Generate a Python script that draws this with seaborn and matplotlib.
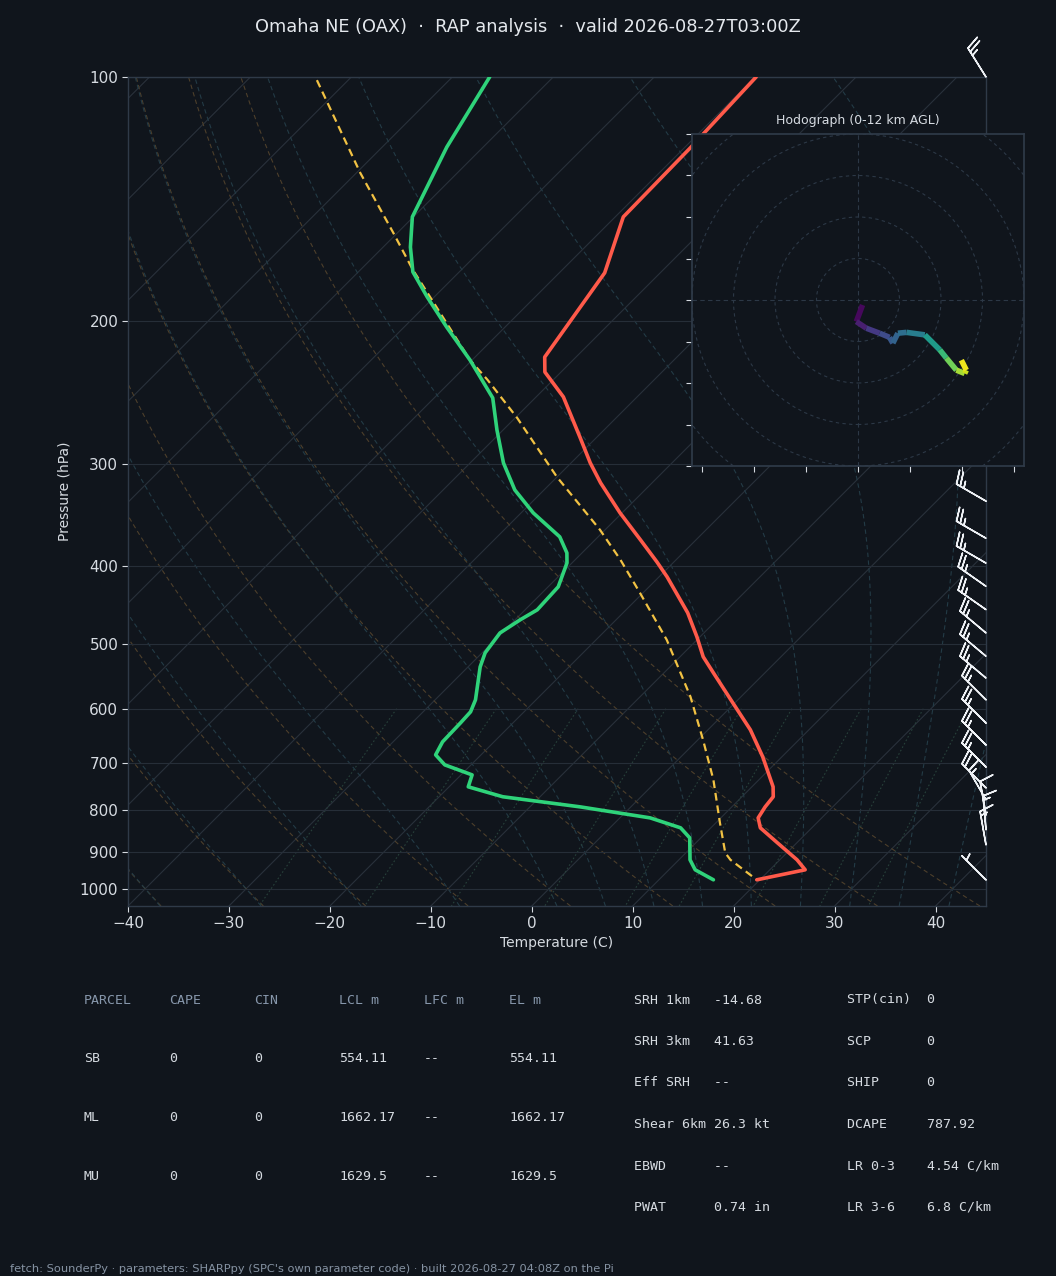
import numpy as np
import matplotlib
matplotlib.use("Agg")
import matplotlib.pyplot as plt
import seaborn as sns
from matplotlib.collections import LineCollection
from matplotlib.patches import Circle
from matplotlib.ticker import FixedLocator, FixedFormatter, NullLocator

# --- sounding values ---
temp_pres = [100, 122.3, 148.7, 174.3, 221.3, 230.9, 247.8, 277.6, 298.8, 316.2,
             344.3, 371.7, 395.6, 412.8, 457.1, 489.4, 517.9, 542.0, 590.2, 637.0,
             687.7, 748.8, 770.2, 792.7, 817.8, 841.2, 878.0, 921.0, 947.5, 974.8]
temp_c = [-59.9, -59.4, -59.2, -55.5, -53.1, -51.6, -47.3, -41.7, -38.1, -35.1,
          -30.2, -25.5, -21.7, -19.2, -13.6, -10.3, -7.7, -5.1, -0.2, 4.2,
          8.1, 12.1, 13.1, 13.3, 13.7, 14.9, 18.1, 21.7, 23.5, 19.7]

dwpt_pres = [100, 122.0, 148.7, 162.0, 173.8, 186.6, 203.2, 223.2, 248.5, 272.2,
             298.8, 322.6, 344.3, 368.5, 385.7, 396.8, 424.6, 453.3, 466.3, 484.0,
             512.1, 532.9, 585.1, 605.3, 624.5, 659.1, 683.9, 703.6, 723.9, 748.8,
             770.2, 792.7, 817.8, 841.2, 865.5, 921.0, 947.5, 974.8]
dwpt_c = [-86.3, -83.6, -80.1, -77.3, -74.6, -70.7, -65.8, -60.2, -54.2, -50.6,
          -46.7, -42.9, -38.8, -33.8, -31.5, -30.5, -29.0, -28.8, -29.5, -30.2,
          -29.7, -28.8, -26.0, -25.3, -25.2, -25.1, -24.5, -22.6, -18.9, -18.1,
          -13.7, -5.0, 3.0, 7.0, 8.9, 11.1, 12.6, 15.4]

parcel_pres = [100.9, 131.3, 155.6, 172.8, 223.2, 236.1, 263.0, 311.0, 361.3, 393.4,
               432.0, 493.5, 580.1, 655.3, 734.2, 829.3, 903.0, 921.0, 974.8]
parcel_c = [-103.1, -89.6, -80.4, -74.8, -60.2, -56.5, -49.8, -40.0, -30.5, -25.5,
            -20.3, -13.0, -5.0, 0.5, 5.5, 10.4, 13.9, 15.1, 19.7]

barb_pres = [975, 883, 846, 811, 777, 751, 708, 665, 625, 585, 550, 517, 484, 453,
             424, 397, 370, 333, 100]
barb_dir = [315, 350, 355, 350, 330, 315, 315, 315, 315, 315, 310, 310, 310, 305,
            305, 300, 300, 300, 328]
barb_kt = [5, 15, 15, 10, 15, 20, 25, 25, 25, 25, 25, 25, 25, 25,
           25, 25, 25, 25, 25]

hodo_km = [0.0, 0.5, 1.5, 2.5, 3.0, 3.5, 4.0, 4.6, 5.5, 7.5, 8.8, 10.0, 10.8, 11.4, 12.0]
hodo_u = [1.1, -0.4, 2.0, 5.2, 7.6, 8.4, 9.6, 11.7, 16.1, 19.7, 21.3, 23.7, 25.7, 26.1, 24.9]
hodo_v = [-1.2, -5.2, -6.8, -8.0, -9.0, -10.4, -8.0, -7.8, -8.4, -12.0, -14.0, -16.9, -17.7, -16.9, -14.5]

# --- parameter tables ---
parcel_head = ["PARCEL", "CAPE", "CIN", "LCL m", "LFC m", "EL m"]
parcel_name = ["SB", "ML", "MU"]
parcel_cape = ["0", "0", "0"]
parcel_cin = ["0", "0", "0"]
parcel_lcl = ["554.11", "1662.17", "1629.5"]
parcel_lfc = ["--", "--", "--"]
parcel_el = ["554.11", "1662.17", "1629.5"]

kin_label = ["SRH 1km", "SRH 3km", "Eff SRH", "Shear 6km", "EBWD", "PWAT"]
kin_value = ["-14.68", "41.63", "--", "26.3 kt", "--", "0.74 in"]
comp_label = ["STP(cin)", "SCP", "SHIP", "DCAPE", "LR 0-3", "LR 3-6"]
comp_value = ["0", "0", "0", "787.92", "4.54 C/km", "6.8 C/km"]

BG = "#10151c"
SPINE = "#2f3a48"
TXT = "#d6dbe1"
MUTED = "#8797ab"

sns.set_theme(style="dark", rc={
    "figure.facecolor": BG, "axes.facecolor": BG, "axes.edgecolor": SPINE,
    "text.color": TXT, "axes.labelcolor": TXT, "xtick.color": TXT, "ytick.color": TXT,
    "xtick.bottom": True, "ytick.left": True, "axes.grid": False,
})
plt.rcParams["font.family"] = ["DejaVu Sans"]

W, H = 1056, 1276
fig = plt.figure(figsize=(W / 100, H / 100), dpi=100)

# skew-T axes
XMIN, XMAX = -40, 45
PBOT, PTOP = 1050, 100
ax_w, ax_h = 858, 829
ax = fig.add_axes([128 / W, 1 - 906 / H, ax_w / W, ax_h / H])
ax.set_yscale("log")
ax.set_xlim(XMIN, XMAX)
ax.set_ylim(PBOT, PTOP)

skew_k = (ax_h / np.log10(PBOT / PTOP)) / (ax_w / (XMAX - XMIN))


def skew(t, p):
    return np.asarray(t, float) + skew_k * np.log10(PBOT / np.asarray(p, float))


pgrid = np.linspace(PBOT, PTOP, 120)

# isotherms
for t0 in range(-160, 50, 10):
    ax.plot(skew(np.full_like(pgrid, t0), pgrid), pgrid, color="#29313b", lw=0.8, zorder=1)

# dry adiabats (referenced to 1000 hPa)
for t0 in range(-40, 41, 10):
    tdry = (t0 + 273.15) * (pgrid / 1000.0) ** 0.2857 - 273.15
    ax.plot(skew(tdry, pgrid), pgrid, color="#4d3f2b", lw=0.8, ls=(0, (4, 3)), zorder=1)


# moist adiabats
def dtdp(t, p):
    es = 6.112 * np.exp(17.67 * (t - 273.15) / (t - 29.65))
    rs = 0.622 * es / (p - es)
    return (287.04 * t + 2.501e6 * rs) / (p * (1005.7 + 2.501e6 ** 2 * rs * 0.622 / (287.04 * t ** 2)))


def integrate(t0, plev):
    t = t0.copy()
    out = [t]
    for p0, p1 in zip(plev[:-1], plev[1:]):
        h = p1 - p0
        k1 = dtdp(t, p0)
        k2 = dtdp(t + h / 2 * k1, p0 + h / 2)
        k3 = dtdp(t + h / 2 * k2, p0 + h / 2)
        k4 = dtdp(t + h * k3, p1)
        t = t + h / 6 * (k1 + 2 * k2 + 2 * k3 + k4)
        out.append(t)
    return np.array(out)


moist_t0 = np.concatenate((np.arange(-40, 0, 10), np.arange(0, 46, 5))) + 273.15
p_up = np.linspace(1000, 100, 160)
p_dn = np.linspace(1000, 1050, 6)
t_up = integrate(moist_t0, p_up)
t_dn = integrate(moist_t0, p_dn)
p_m = np.concatenate((p_dn[::-1], p_up[1:]))
t_m = np.vstack((t_dn[::-1], t_up[1:])) - 273.15
for j in range(len(moist_t0)):
    ax.plot(skew(t_m[:, j], p_m), p_m, color="#233b46", lw=0.8, ls=(0, (4, 3)), zorder=1)

# mixing ratio lines
p_mix = np.linspace(600, 1050, 40)
for w in [0.0004, 0.001, 0.002, 0.004, 0.007, 0.01, 0.016, 0.024, 0.032]:
    e = p_mix * w / (0.622 + w)
    lg = np.log(e / 6.112)
    td = 243.5 * lg / (17.67 - lg)
    ax.plot(skew(td, p_mix), p_mix, color="#27403a", lw=0.8, ls=(0, (1.5, 2)), zorder=1)

# pressure grid
plevels = [100, 200, 300, 400, 500, 600, 700, 800, 900, 1000]
for p in plevels:
    ax.axhline(p, color="#262e38", lw=0.8, zorder=1)

# profiles
sns.lineplot(x=skew(parcel_c, parcel_pres), y=parcel_pres, sort=False, estimator=None,
             color="#f2c243", lw=1.6, linestyle=(0, (3.5, 2.2)), ax=ax, zorder=4)
sns.lineplot(x=skew(temp_c, temp_pres), y=temp_pres, sort=False, estimator=None,
             color="#ff5a4a", lw=2.6, ax=ax, zorder=5)
sns.lineplot(x=skew(dwpt_c, dwpt_pres), y=dwpt_pres, sort=False, estimator=None,
             color="#2fd37a", lw=2.6, ax=ax, zorder=5)

ax.set_xlim(XMIN, XMAX)
ax.set_ylim(PBOT, PTOP)
ax.yaxis.set_major_locator(FixedLocator(plevels))
ax.yaxis.set_major_formatter(FixedFormatter([str(p) for p in plevels]))
ax.yaxis.set_minor_locator(NullLocator())
ax.set_xticks(range(-40, 41, 10))
ax.tick_params(axis="both", labelsize=11, length=4, width=0.8, colors=TXT, pad=3)
ax.set_xlabel("Temperature (C)", fontsize=10, labelpad=4)
ax.set_ylabel("Pressure (hPa)", fontsize=10, labelpad=6)
for s in ax.spines.values():
    s.set_color(SPINE)
    s.set_linewidth(1.0)

# wind barbs along the right edge
rad = np.deg2rad(barb_dir)
bu = -np.asarray(barb_kt) * np.sin(rad)
bv = -np.asarray(barb_kt) * np.cos(rad)
ax.barbs(np.ones(len(barb_pres)), barb_pres, bu, bv, transform=ax.get_yaxis_transform(),
         clip_on=False, length=7, color="#eef1f5", linewidth=1.1, zorder=6)

# hodograph inset
hax = fig.add_axes([692 / W, 1 - 466 / H, 332 / W, 332 / H])
hax.set_facecolor(BG)
hax.set_xlim(-40, 40)
hax.set_ylim(-40, 40)
for r in range(10, 70, 10):
    hax.add_patch(Circle((0, 0), r, fill=False, ec="#2c3846", lw=0.8, ls=(0, (3, 3))))
hax.axhline(0, color="#2c3846", lw=0.8, ls=(0, (4, 3)))
hax.axvline(0, color="#2c3846", lw=0.8, ls=(0, (4, 3)))
pts = np.column_stack([hodo_u, hodo_v]).reshape(-1, 1, 2)
segs = np.concatenate([pts[:-1], pts[1:]], axis=1)
lc = LineCollection(segs, cmap="viridis", norm=plt.Normalize(0, 12), lw=4, capstyle="butt")
lc.set_array(0.5 * (np.array(hodo_km[:-1]) + np.array(hodo_km[1:])))
hax.add_collection(lc)
hax.set_xticks(np.arange(-37.5, 40, 12.5))
hax.set_yticks(np.arange(-40, 41, 10))
hax.tick_params(labelleft=False, labelbottom=False, length=4, width=0.8, colors=TXT)
for s in hax.spines.values():
    s.set_color(SPINE)
hax.set_title("Hodograph (0-12 km AGL)", fontsize=9, color=TXT, pad=7)

# title and footer
fig.text(0.5, 1 - 27 / H, "Omaha NE (OAX)  \u00b7  RAP analysis  \u00b7  valid 2026-08-27T03:00Z",
         ha="center", va="center", fontsize=12.8, color="#e4e8ed")
fig.text(10 / W, 1 - 1269 / H,
         "fetch: SounderPy \u00b7 parameters: SHARPpy (SPC's own parameter code) \u00b7 built 2026-08-27 04:08Z on the Pi",
         ha="left", va="center", fontsize=8.2, color="#8693a3")

# parcel table
mono = "DejaVu Sans Mono"
cols = [parcel_name, parcel_cape, parcel_cin, parcel_lcl, parcel_lfc, parcel_el]
for i, head in enumerate(parcel_head):
    x = (84 + 85 * i) / W
    fig.text(x, 1 - 1000 / H, head, family=mono, fontsize=9.5, color=MUTED, va="center")
    for j, val in enumerate(cols[i]):
        fig.text(x, 1 - (1059 + 58.7 * j) / H, val, family=mono, fontsize=9.5, color=TXT, va="center")

# kinematic / composite table
for j in range(len(kin_label)):
    y = 1 - (1000 + 41.5 * j) / H
    fig.text(634 / W, y, f"{kin_label[j]:<10}{kin_value[j]}", family=mono, fontsize=9.5, color=TXT, va="center")
    fig.text(847 / W, y, f"{comp_label[j]:<10}{comp_value[j]}", family=mono, fontsize=9.5, color=TXT, va="center")

fig.savefig("out.png", dpi=100, facecolor=BG)
